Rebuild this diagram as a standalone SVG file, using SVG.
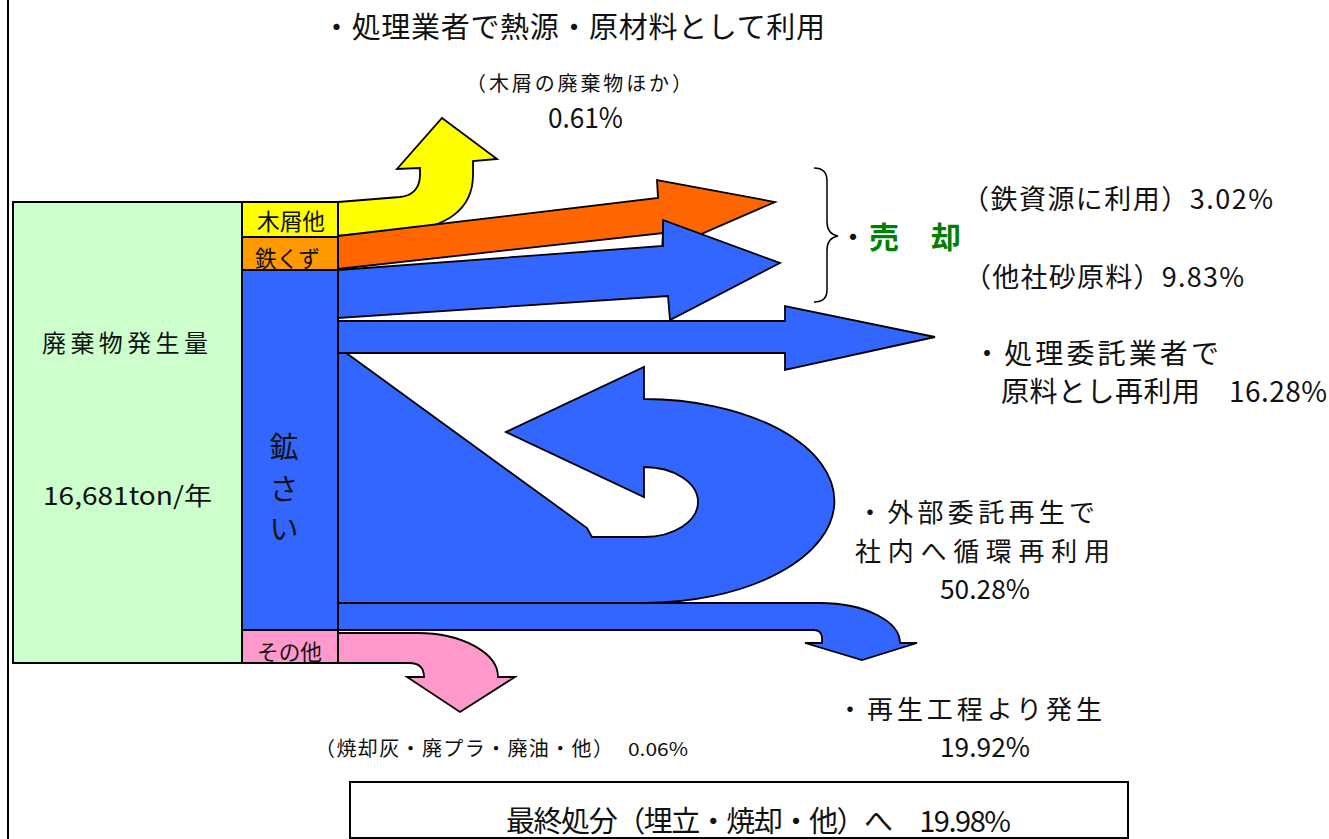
<svg xmlns="http://www.w3.org/2000/svg" width="1329" height="839" viewBox="0 0 1329 839">
<style>
text{font-family:"Noto Sans CJK JP","Noto Sans",sans-serif;fill:#111;}
.box{stroke:#000;stroke-width:2;}
.arr{stroke:#000;stroke-width:1.8;stroke-linejoin:miter;}
.blue{fill:#3366FF;}
.l28{font-size:28px;}
.l26{font-size:26px;}
.g{fill:#008000;font-weight:bold;}
</style>
<rect x="0" y="0" width="1329" height="839" fill="#fff"/>
<line x1="8" y1="0" x2="8" y2="839" stroke="#000" stroke-width="2"/>

<g id="connectors">
  <path class="arr" fill="#FFFF00" d="M338,202 L400,197 Q419,195 420,176 L420,168 L397,169 L442,118 L497,159 L473,161 L473,175 C473,210 445,228 405,230 L338,236 Z"/>
  <path class="arr" fill="#FF6600" d="M338,236 L658,198 L657,180 L775,202 L662,251 L663,233 L338,269 Z"/>
  <path class="arr blue" d="M338,270 L663,246 L663,220 L780,263 L670,320 L668,296 L338,318 Z"/>
  <path class="arr blue" d="M338,347 L587,528 L592,537 L644,537 A54,35 0 0 0 644,467 L644,497 L506,432 L644,367 L644,399 A191,102 0 0 1 643,603 L338,603 Z"/>
  <path class="arr blue" d="M338,321 L785,321 L785,306 L935,337 L785,370 L785,353 L338,353 Z"/>
  <path class="arr blue" d="M338,603 L820,603 A80,40 0 0 1 900,643 L917,643 L862,660 L805,643 L822,643 L822,637 Q821,630 814,630 L338,630 Z"/>
  <path class="arr" fill="#FF99CC" d="M338,633 L417,633 A81,44 0 0 1 498,677 L515,677 L460,712 L407,677 L424,677 Q424,663 409,663 L338,663 Z"/>
  <path fill="none" stroke="#000" stroke-width="1.5" d="M814,168 Q827,168 827,181 L827,222 Q827,234 838,236 Q827,238 827,250 L827,290 Q827,302 814,302"/>
</g>

<g id="source">
  <rect class="box" x="13" y="202" width="229" height="461" fill="#CCFFCC"/>
  <text x="42" y="352" font-size="24" textLength="166">廃棄物発生量</text>
  <text x="43" y="505" font-size="25" textLength="169" lengthAdjust="spacingAndGlyphs">16,681ton/年</text>
</g>
<g id="seg-wood">
  <rect class="box" x="242" y="202" width="96" height="35" fill="#FFFF00"/>
  <text x="257" y="230" font-size="23" textLength="68" lengthAdjust="spacingAndGlyphs">木屑他</text>
</g>
<g id="seg-iron">
  <rect class="box" x="242" y="237" width="96" height="33" fill="#FF9900"/>
  <text x="255" y="267" font-size="23" textLength="65" lengthAdjust="spacingAndGlyphs">鉄くず</text>
</g>
<g id="seg-slag">
  <rect class="box blue" x="242" y="270" width="96" height="360"/>
  <text x="284" y="458" font-size="29" text-anchor="middle">鉱</text>
  <text x="284" y="500" font-size="29" text-anchor="middle">さ</text>
  <text x="284" y="540" font-size="29" text-anchor="middle">い</text>
</g>
<g id="seg-other">
  <rect class="box" x="242" y="630" width="96" height="33" fill="#FF99CC"/>
  <text x="257" y="660" font-size="22" textLength="65" lengthAdjust="spacingAndGlyphs">その他</text>
</g>

<g id="label-heat">
  <text x="322" y="38" font-size="29" textLength="503">・処理業者で熱源・原材料として利用</text>
  <text x="466" y="91" font-size="20" textLength="226">（木屑の廃棄物ほか）</text>
  <text x="548" y="128" font-size="28" textLength="75" lengthAdjust="spacingAndGlyphs">0.61%</text>
</g>
<g id="label-sale">
  <text x="838" y="248" font-size="30">・</text>
  <text class="g" x="869" y="248" font-size="30" textLength="92">売　却</text>
  <text x="962" y="209" font-size="27" textLength="311">（鉄資源に利用）3.02%</text>
  <text x="964" y="287" font-size="27" textLength="280">（他社砂原料）9.83%</text>
</g>
<g id="label-contract">
  <text x="973" y="364" class="l28" textLength="246">・処理委託業者で</text>
  <text x="1001" y="402" class="l28" textLength="326">原料とし再利用　16.28%</text>
</g>
<g id="label-recycle">
  <text x="857" y="522" class="l26" textLength="238">・外部委託再生で</text>
  <text x="855" y="561" class="l26" textLength="255">社内へ循環再利用</text>
  <text x="940" y="599" font-size="27" textLength="90" lengthAdjust="spacingAndGlyphs">50.28%</text>
</g>
<g id="label-regen">
  <text x="837" y="719" class="l26" textLength="265">・再生工程より発生</text>
  <text x="940" y="757" font-size="27" textLength="90" lengthAdjust="spacingAndGlyphs">19.92%</text>
</g>
<g id="label-other">
  <text x="315" y="756" font-size="20" textLength="298">（焼却灰・廃プラ・廃油・他）</text>
  <text x="628" y="756" font-size="18" textLength="60" lengthAdjust="spacingAndGlyphs">0.06%</text>
</g>
<g id="final">
  <rect class="box" x="350" y="782" width="778" height="56" fill="#fff"/>
  <text x="506" y="832" font-size="29" textLength="505">最終処分（埋立・焼却・他）へ　19.98%</text>
</g>
</svg>
